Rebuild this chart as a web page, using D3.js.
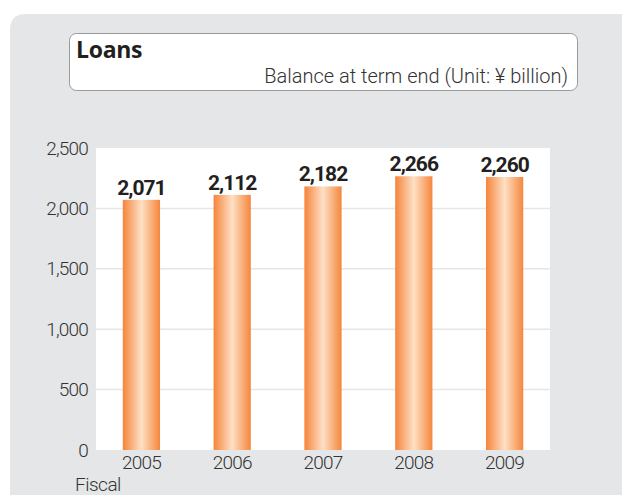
<!DOCTYPE html>
<html>
<head>
<meta charset="utf-8">
<script src="https://cdn.jsdelivr.net/npm/d3@7.9.0/dist/d3.min.js"></script>
<style>
  body { margin: 0; background: #fff; }
  svg { display: block; }
</style>
</head>
<body>
<div id="chart"></div>
<script>
const years = ["2005", "2006", "2007", "2008", "2009"];
const loans = [2071, 2112, 2182, 2266, 2260];
const yTicks = [0, 500, 1000, 1500, 2000, 2500];

const width = 622;
const height = 495;
const font = "Roboto, sans-serif";

const svg = d3.select("#chart")
  .append("svg")
  .attr("width", width)
  .attr("height", height);

// grey panel with rounded top-left corner
svg.append("path")
  .attr("d", "M10,495 L10,30 Q10,14 26,14 L622,14 L622,495 Z")
  .attr("fill", "#e5e6e8");

// title box
svg.append("rect")
  .attr("x", 69.5).attr("y", 33.5)
  .attr("width", 508).attr("height", 57)
  .attr("rx", 7)
  .attr("fill", "#fff")
  .attr("stroke", "#9a9a9a");

svg.append("text")
  .attr("x", 76).attr("y", 58)
  .attr("font-family", "'Open Sans', sans-serif")
  .attr("font-weight", 700)
  .attr("font-size", 23)
  .attr("letter-spacing", -0.3)
  .attr("fill", "#231f20")
  .text("Loans");

svg.append("text")
  .attr("x", 568).attr("y", 83)
  .attr("text-anchor", "end")
  .attr("font-family", font)
  .attr("font-weight", 300)
  .attr("font-size", 20)
  .attr("letter-spacing", 0)
  .attr("fill", "#333")
  .text("Balance at term end (Unit: ¥ billion)");

const margin = { top: 148, right: 72, bottom: 45, left: 96 };
const plot = {
  left: margin.left,
  right: width - margin.right,
  top: margin.top,
  bottom: height - margin.bottom,
};

svg.append("rect")
  .attr("x", plot.left).attr("y", plot.top)
  .attr("width", plot.right - plot.left)
  .attr("height", plot.bottom - plot.top)
  .attr("fill", "#fff");

const x = d3.scaleBand()
  .domain(years)
  .range([plot.left, plot.right])
  .paddingInner(0.59)
  .paddingOuter(0.295);

const y = d3.scaleLinear()
  .domain([0, 2500])
  .range([plot.bottom, plot.top]);

// gridlines
svg.append("g")
  .selectAll("line")
  .data(yTicks.filter((d) => d > 0 && d < 2500))
  .join("line")
  .attr("x1", plot.left).attr("x2", plot.right)
  .attr("y1", (d) => y(d)).attr("y2", (d) => y(d))
  .attr("stroke", "#e6e6e6")
  .attr("stroke-width", 1.5);

// bar gradient
const grad = svg.append("defs").append("linearGradient")
  .attr("id", "barGrad")
  .attr("x1", "0%").attr("x2", "100%")
  .attr("y1", "0%").attr("y2", "0%");
grad.append("stop").attr("offset", "0%").attr("stop-color", "#f5843a");
grad.append("stop").attr("offset", "50%").attr("stop-color", "#fee0c6");
grad.append("stop").attr("offset", "100%").attr("stop-color", "#f5873c");

svg.append("g")
  .selectAll("rect")
  .data(loans)
  .join("rect")
  .attr("x", (d, i) => x(years[i]))
  .attr("y", (d) => y(d))
  .attr("width", x.bandwidth())
  .attr("height", (d) => y(0) - y(d))
  .attr("fill", "url(#barGrad)");

// value labels
svg.append("g")
  .selectAll("text")
  .data(loans)
  .join("text")
  .attr("x", (d, i) => x(years[i]) + x.bandwidth() / 2)
  .attr("y", (d) => y(d) - 5)
  .attr("text-anchor", "middle")
  .attr("font-family", font)
  .attr("font-weight", 700)
  .attr("font-size", 21)
  .attr("letter-spacing", -1)
  .attr("fill", "#231f20")
  .text((d) => d3.format(",")(d));

// y axis
const yAxis = svg.append("g")
  .attr("transform", `translate(${plot.left - 8},0)`)
  .call(d3.axisLeft(y).tickValues(yTicks).tickSize(0).tickPadding(0).tickFormat(d3.format(",")));
yAxis.select(".domain").remove();
yAxis.selectAll("text")
  .attr("font-family", font)
  .attr("font-weight", 300)
  .attr("font-size", 19)
  .attr("letter-spacing", -0.8)
  .attr("fill", "#333");

// x axis
const xAxis = svg.append("g")
  .attr("transform", `translate(0,${plot.bottom})`)
  .call(d3.axisBottom(x).tickSize(0).tickPadding(6));
xAxis.select(".domain").remove();
xAxis.selectAll("text")
  .attr("font-family", font)
  .attr("font-weight", 300)
  .attr("font-size", 19)
  .attr("letter-spacing", -0.8)
  .attr("fill", "#333");

svg.append("text")
  .attr("x", 75).attr("y", 491)
  .attr("font-family", font)
  .attr("font-weight", 300)
  .attr("font-size", 19)
  .attr("letter-spacing", -0.5)
  .attr("fill", "#333")
  .text("Fiscal");
</script>
</body>
</html>
